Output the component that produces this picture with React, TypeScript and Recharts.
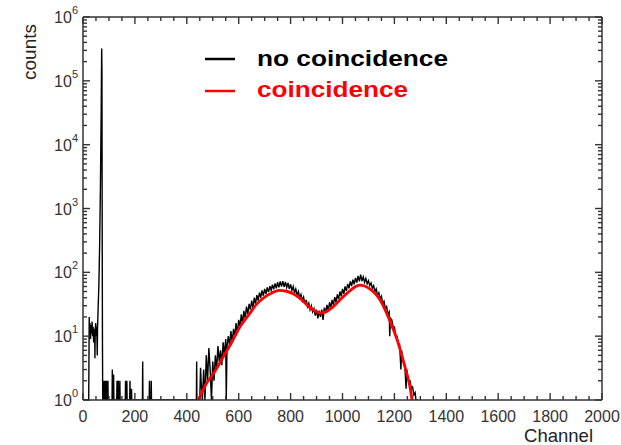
import React from 'react';
import { LineChart, Line, XAxis, YAxis, Legend } from 'recharts';

const FONT = '"Liberation Sans", Arial, sans-serif';

// Black spectrum ("no coincidence"), [channel, counts]; zero counts shown at 1 (axis floor)
const lowRegion: [number, number][] = [
  [0, 1], [22, 1], [24, 20], [25, 12], [27, 16], [29, 9], [31, 15], [33, 11], [35, 17], [37, 10],
  [39, 14], [41, 8], [43, 13], [45, 11], [46, 4.5], [47, 12], [49, 16], [51, 10], [53, 14], [55, 5],
  [56, 13], [58, 25], [61, 60], [64, 250], [67, 2000], [70, 30000], [72, 320000], [73, 150000],
  [74, 400], [75, 8], [76, 1],
];

const sparseEvents: [number, number][] = [
  [77, 1], [78, 2], [79, 1], [80, 2], [81, 1], [82, 2], [83, 1], [84, 2], [85, 1], [86, 2], [87, 1],
  [89, 2], [90, 1], [92, 2], [93, 1], [96, 2], [97, 1], [112, 1], [113, 3], [114, 1], [117, 1],
  [118, 2.5], [119, 1], [130, 1], [131, 2], [132, 1], [135, 1], [136, 2], [137, 1], [141, 1],
  [142, 2], [143, 1], [163, 1], [164, 2], [165, 1], [168, 1], [169, 2], [170, 1], [180, 1],
  [181, 2], [182, 1], [186, 1], [187, 1.5], [188, 1], [229, 1], [230, 4], [231, 1], [255, 1],
  [256, 2], [257, 1], [262, 1], [263, 2], [264, 1], [437, 1], [438, 4], [439, 1],
];

const mainHump: [number, number][] = [
  [445, 1], [450, 1], [453, 3.2], [455, 2], [460, 1], [465, 3], [470, 1], [475, 5], [480, 2], [485, 6.5],
  [490, 3], [495, 1], [500, 4], [505, 2], [510, 5], [515, 3], [520, 7], [525, 4], [530, 6], [535, 3.5],
  [540, 8], [545, 5], [550, 9], [552, 1], [555, 7], [560, 10], [565, 7], [570, 12], [575, 8], [580, 13],
  [585, 10], [590, 16], [595, 11], [600, 18], [605, 14], [610, 22], [615, 16], [620, 25], [625, 19],
  [630, 29], [635, 22], [640, 32], [645, 26], [650, 36], [655, 28], [660, 40], [665, 32], [670, 44],
  [675, 36], [680, 48], [685, 40], [690, 52], [695, 43], [700, 55], [705, 46], [710, 58], [715, 49],
  [720, 61], [725, 52], [730, 64], [735, 54], [740, 67], [745, 56], [750, 70], [755, 58], [760, 72],
  [765, 60], [770, 73], [775, 59], [780, 71], [785, 58], [790, 68], [795, 55], [800, 65], [805, 52],
  [810, 60], [815, 48], [820, 55], [825, 44], [830, 50], [835, 40], [840, 45], [845, 36], [850, 41],
  [855, 32], [860, 37], [865, 29], [870, 33], [875, 26], [880, 30], [885, 24], [890, 27], [895, 21],
  [900, 26], [905, 19], [910, 25], [915, 20], [920, 26], [925, 18], [930, 28], [935, 23], [940, 31],
  [945, 25], [950, 34], [955, 28], [960, 37], [965, 31], [970, 41], [975, 34], [980, 45], [985, 38],
  [990, 50], [995, 42], [1000, 55], [1005, 46], [1010, 60], [1015, 51], [1020, 66], [1025, 56],
  [1030, 72], [1035, 61], [1040, 77], [1045, 65], [1050, 82], [1055, 69], [1060, 88], [1065, 72],
  [1070, 92], [1075, 73], [1080, 85], [1085, 70], [1090, 80], [1095, 66], [1100, 74], [1105, 62],
  [1110, 68], [1115, 56], [1120, 62], [1125, 50], [1130, 55], [1135, 44], [1140, 48], [1145, 38],
  [1150, 42], [1155, 32], [1160, 35], [1165, 27], [1170, 29], [1175, 22], [1180, 24], [1182, 10],
  [1185, 19], [1190, 18], [1195, 14], [1200, 14], [1205, 10], [1210, 10], [1215, 7.5], [1220, 7.5],
  [1225, 3], [1228, 6], [1230, 5], [1235, 4], [1240, 3.5], [1245, 1.5], [1248, 3], [1250, 2.5],
  [1255, 2], [1260, 2], [1265, 1.5], [1270, 1.6], [1275, 1.2], [1280, 1.3], [1283, 1], [1290, 1],
];

// Red fit ("coincidence"), [channel, counts]
const coincidenceFit: [number, number][] = [
  [445, 1], [455, 1.25], [465, 1.5], [475, 1.8], [490, 2.2], [510, 2.9], [540, 4.7], [570, 7.6],
  [605, 14], [640, 22], [670, 32], [700, 41], [730, 48], [755, 52], [780, 51], [810, 46], [840, 38],
  [870, 29], [900, 24], [915, 23], [935, 24], [960, 28], [990, 37], [1020, 48], [1045, 58],
  [1065, 63], [1085, 61], [1105, 55], [1125, 47], [1145, 37], [1170, 23], [1195, 13], [1215, 7.7],
  [1235, 4], [1250, 2.4], [1260, 1.6], [1268, 1],
];

const xTicks: number[] = [];
for (let c = 0; c <= 2000; c += 50) xTicks.push(c);
const yTicks: number[] = [];
for (let n = 0; n < 6; n++) for (let m = 1; m <= 9; m++) yTicks.push(m * Math.pow(10, n));
yTicks.push(1e6);

const toRows = (pts: [number, number][]) => pts.map(([ch, counts]) => ({ ch, counts }));
const blackData = toRows([...lowRegion, ...sparseEvents, ...mainHump]);
const redData = toRows(coincidenceFit);

const AX = '#333';
const isDecade = (v: number) => Math.abs(Math.log10(v) - Math.round(Math.log10(v))) < 1e-9;

const bottomTick = (p: any) => {
  const { x, y, payload } = p;
  const v = payload.value;
  const major = v % 200 === 0;
  return (
    <g key={`b${v}`}>
      <path d={`M${x},${y}V${y - (major ? 7 : 4)}`} stroke={AX} strokeWidth={1.4} fill="none" />
      {major && (
        <text x={x} y={y + 22} textAnchor="middle" fontSize={16} fill={AX} fontFamily={FONT}>
          {v}
        </text>
      )}
    </g>
  );
};

const topTick = (p: any) => {
  const { x, y, payload } = p;
  const major = payload.value % 200 === 0;
  return (
    <path key={`t${payload.value}`} d={`M${x},${y}V${y + (major ? 7 : 4)}`} stroke={AX}
      strokeWidth={1.4} fill="none" />
  );
};

const leftTick = (p: any) => {
  const { x, y, payload } = p;
  const v = payload.value;
  const major = isDecade(v);
  const exp = Math.round(Math.log10(v));
  return (
    <g key={`l${v}`}>
      <path d={`M${x},${y}H${x + (major ? 7 : 4)}`} stroke={AX} strokeWidth={1.4} fill="none" />
      {major && (
        <text x={x - 5} y={y + 6} textAnchor="end" fontSize={16} fill={AX} fontFamily={FONT}>
          10
          <tspan dy={-9} fontSize={11}>{exp}</tspan>
        </text>
      )}
    </g>
  );
};

const rightTick = (p: any) => {
  const { x, y, payload } = p;
  const major = isDecade(payload.value);
  return (
    <path key={`r${payload.value}`} d={`M${x},${y}H${x - (major ? 7 : 4)}`} stroke={AX}
      strokeWidth={1.4} fill="none" />
  );
};

const CountsLabel = (p: any) => {
  const vb = p.viewBox || { x: 0, y: 17 };
  const cx = vb.x + 36;
  const cy = vb.y + 35;
  return (
    <text x={cx} y={cy} textAnchor="middle" fontSize={19} fill="#222" fontFamily={FONT}
      transform={`rotate(-90, ${cx}, ${cy})`}>
      counts
    </text>
  );
};

const ChannelLabel = (p: any) => {
  const vb = p.viewBox || { x: 83, y: 400, width: 519 };
  return (
    <text x={vb.x + vb.width - 9} y={vb.y + 42} textAnchor="end" fontSize={18.5} fill="#222" fontFamily={FONT}>
      Channel
    </text>
  );
};

const LegendBox = () => (
  <svg width={270} height={70} style={{ display: 'block' }}>
    <line x1={5} y1={21} x2={35} y2={21} stroke="#000" strokeWidth={2.5} />
    <text x={57} y={28} fontSize={22} fontWeight="bold" fill="#000" fontFamily={FONT}
      textLength={191} lengthAdjust="spacingAndGlyphs">
      no coincidence
    </text>
    <line x1={5} y1={53} x2={35} y2={53} stroke="#ff0000" strokeWidth={2.5} />
    <text x={57} y={59} fontSize={22} fontWeight="bold" fill="#ff0000" fontFamily={FONT}
      textLength={151} lengthAdjust="spacingAndGlyphs">
      coincidence
    </text>
  </svg>
);

export default function App() {
  return (
    <div style={{ position: 'absolute', left: 0, top: 0, width: 621, height: 445, background: '#fff' }}>
      <LineChart width={621} height={445} margin={{ top: 16, right: 18, bottom: 0, left: 0 }}>
        <XAxis xAxisId="b" dataKey="ch" type="number" domain={[0, 2000]} ticks={xTicks} interval={0}
          tick={bottomTick} tickLine={false} tickSize={0} tickMargin={0} height={45}
          axisLine={{ stroke: AX, strokeWidth: 1.5 }} allowDataOverflow label={<ChannelLabel />} />
        <XAxis xAxisId="t" orientation="top" dataKey="ch" type="number" domain={[0, 2000]} ticks={xTicks}
          interval={0} tick={topTick} tickLine={false} tickSize={0} tickMargin={0} height={1}
          axisLine={{ stroke: AX, strokeWidth: 1.5 }} allowDataOverflow />
        <YAxis yAxisId="l" type="number" scale="log" domain={[1, 1e6]} ticks={yTicks} interval={0}
          tick={leftTick} tickLine={false} tickSize={0} tickMargin={0} width={83}
          axisLine={{ stroke: AX, strokeWidth: 1.5 }} allowDataOverflow label={<CountsLabel />} />
        <YAxis yAxisId="r" orientation="right" type="number" scale="log" domain={[1, 1e6]} ticks={yTicks}
          interval={0} tick={rightTick} tickLine={false} tickSize={0} tickMargin={0} width={1}
          axisLine={{ stroke: AX, strokeWidth: 1.5 }} allowDataOverflow />
        <Legend verticalAlign="middle" layout="horizontal" content={<LegendBox />}
          wrapperStyle={{ position: 'absolute', left: 200, top: 38, width: 270, height: 70 }} />
        <Line xAxisId="b" yAxisId="l" data={blackData} dataKey="counts" type="linear" stroke="#000"
          strokeWidth={1.4} dot={false} isAnimationActive={false} legendType="none" />
        <Line xAxisId="b" yAxisId="l" data={redData} dataKey="counts" type="monotone" stroke="#ff0000"
          strokeWidth={2.8} dot={false} isAnimationActive={false} legendType="none" />
        <Line xAxisId="t" yAxisId="r" data={redData} dataKey="counts" stroke="none" dot={false}
          isAnimationActive={false} legendType="none" activeDot={false} />
      </LineChart>
    </div>
  );
}
